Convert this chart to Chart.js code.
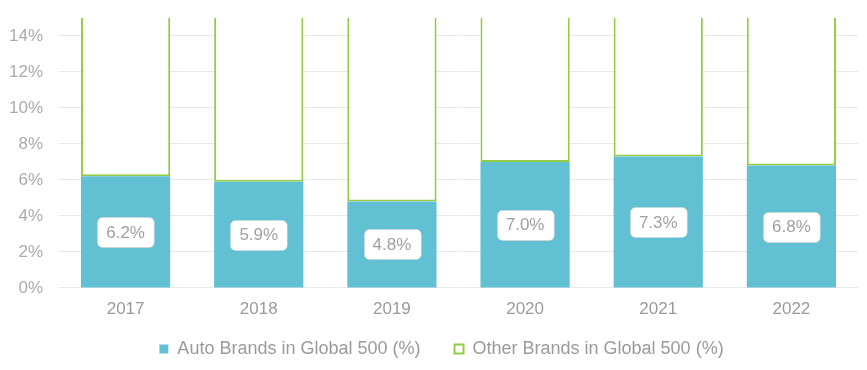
<!DOCTYPE html>
<html>
<head>
<meta charset="utf-8">
<script src="https://cdn.jsdelivr.net/npm/chart.js@4"></script>
<style>
  html, body { margin: 0; padding: 0; background: #fff; }
  #wrap { width: 867px; height: 370px; position: relative; }
</style>
</head>
<body>
<div id="wrap"><canvas id="brandChart"></canvas></div>
<script>
const years = ['2017', '2018', '2019', '2020', '2021', '2022'];
const autoShare = [6.2, 5.9, 4.8, 7.0, 7.3, 6.8];
const otherShare = [93.8, 94.1, 95.2, 93.0, 92.7, 93.2];
const yTicks = [0, 2, 4, 6, 8, 10, 12, 14];

const FONT = '"Liberation Sans", Arial, sans-serif';

// white rounded value boxes in the middle of the blue bars
const valueBoxes = {
  id: 'valueBoxes',
  afterDatasetsDraw(chart) {
    const ctx = chart.ctx;
    const meta = chart.getDatasetMeta(0);
    ctx.save();
    ctx.font = '17px ' + FONT;
    ctx.textAlign = 'center';
    ctx.textBaseline = 'middle';
    meta.data.forEach((bar, i) => {
      const text = autoShare[i].toFixed(1) + '%';
      const cy = (bar.y + bar.base) / 2;
      const w = ctx.measureText(text).width + 18;
      const h = 30;
      ctx.beginPath();
      ctx.roundRect(Math.round(bar.x - w / 2) + 0.5, Math.round(cy - h / 2) + 0.5, w, h, 5);
      ctx.fillStyle = '#ffffff';
      ctx.fill();
      ctx.setLineDash([1, 1]);
      ctx.strokeStyle = '#d4d4d4';
      ctx.lineWidth = 1;
      ctx.stroke();
      ctx.setLineDash([]);
      ctx.fillStyle = '#a0a0a0';
      ctx.fillText(text, bar.x, cy + 1);
    });
    ctx.restore();
  }
};

// nudge the legend row a little to the right, like the original
const legendShift = {
  id: 'legendShift',
  beforeDraw(chart) {
    chart.legend.left += 8;
    chart.legend.right += 8;
  }
};

new Chart(document.getElementById('brandChart'), {
  type: 'bar',
  data: {
    labels: years,
    datasets: [
      {
        label: 'Auto Brands in Global 500 (%)',
        data: autoShare,
        backgroundColor: '#62c0d3',
        borderWidth: 0,
        barPercentage: 0.67,
        categoryPercentage: 1.0
      },
      {
        label: 'Other Brands in Global 500 (%)',
        data: otherShare,
        backgroundColor: '#ffffff',
        borderColor: '#92cc44',
        borderWidth: 2,
        borderSkipped: 'top',
        barPercentage: 0.67,
        categoryPercentage: 1.0
      }
    ]
  },
  options: {
    responsive: true,
    maintainAspectRatio: false,
    animation: false,
    layout: { padding: { left: 9, right: 9, top: 18, bottom: 2 } },
    scales: {
      x: {
        stacked: true,
        grid: { display: false, drawTicks: false },
        border: { display: false },
        ticks: { color: '#9a9a9a', font: { size: 17, family: FONT, lineHeight: 2.18 }, padding: 3 }
      },
      y: {
        stacked: true,
        min: 0,
        max: 15,
        afterBuildTicks(axis) {
          axis.ticks = yTicks.map(v => ({ value: v }));
        },
        afterFit(axis) {
          axis.width = 50;
          axis.paddingTop = 0;
          axis.paddingBottom = 0;
        },
        grid: { color: '#e8e8e8', drawTicks: false },
        border: { display: false },
        ticks: {
          color: '#ababab',
          font: { size: 17, family: FONT },
          padding: 16,
          callback: v => v + '%'
        }
      }
    },
    plugins: {
      legend: {
        position: 'bottom',
        labels: {
          color: '#9a9a9a',
          font: { size: 18, family: FONT },
          boxWidth: 9,
          boxHeight: 9,
          padding: 9,
          generateLabels(chart) {
            const items = Chart.defaults.plugins.legend.labels.generateLabels(chart);
            items[0].text += '     ';
            return items;
          }
        }
      },
      tooltip: { enabled: false }
    }
  },
  plugins: [valueBoxes, legendShift]
});
</script>
</body>
</html>
